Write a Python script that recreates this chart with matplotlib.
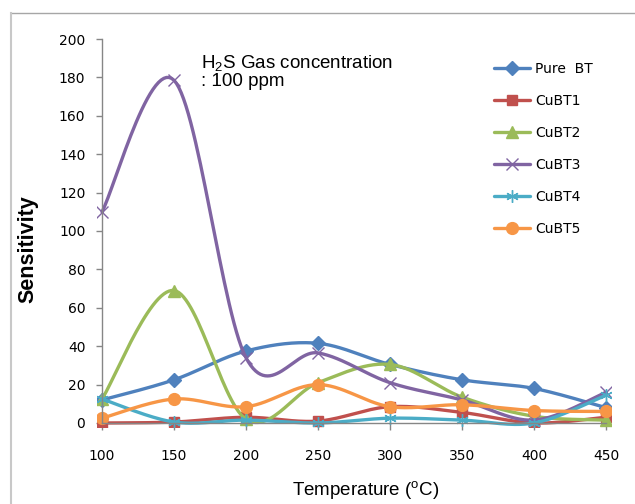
import matplotlib
matplotlib.use('Agg')
import matplotlib.pyplot as plt
import numpy as np
from matplotlib.lines import Line2D
from matplotlib.patches import Rectangle

plt.rcParams['mathtext.fontset'] = 'custom'
plt.rcParams['mathtext.rm'] = 'Liberation Sans'
plt.rcParams['mathtext.it'] = 'Liberation Sans'

temps = [100, 150, 200, 250, 300, 350, 400, 450]
series_names = ['Pure  BT', 'CuBT1', 'CuBT2', 'CuBT3', 'CuBT4', 'CuBT5']
pure_bt = [12, 22.5, 37.5, 41.5, 30.5, 22.5, 18, 8]
cubt1 = [0, 0.5, 3, 1, 8.5, 5.5, 0, 3]
cubt2 = [12.5, 69, 2, 21, 30.5, 13.5, 3.5, 1.5]
cubt3 = [110, 178.5, 34, 36.5, 21, 12, 1.5, 16]
cubt4 = [12.5, 0.5, 1.5, 0, 2.5, 1.5, 0, 14.5]
cubt5 = [2.5, 12.5, 8.5, 20, 8.5, 9.5, 6.5, 6]
y_ticks = [0, 20, 40, 60, 80, 100, 120, 140, 160, 180, 200]

colors = ['#4F81BD', '#C0504D', '#9BBB59', '#8064A2', '#4BACC6', '#F79646']
markers = ['D', 's', '^', 'x', (6, 2, 0), 'o']
msizes = [7, 7.5, 8, 8, 9, 8.5]


def smooth(xs, ys, n=30):
    # Excel-like smoothed line: bezier segments with catmull-rom control points
    p = np.column_stack([xs, ys]).astype(float)
    out = []
    for i in range(len(p) - 1):
        p0 = p[max(i - 1, 0)]
        p1 = p[i]
        p2 = p[i + 1]
        p3 = p[min(i + 2, len(p) - 1)]
        c1 = p1 + (p2 - p0) / 6
        c2 = p2 - (p3 - p1) / 6
        t = np.linspace(0, 1, n, endpoint=False)[:, None]
        seg = ((1 - t) ** 3) * p1 + 3 * ((1 - t) ** 2) * t * c1 + 3 * (1 - t) * t ** 2 * c2 + t ** 3 * p2
        out.append(seg)
    out.append(p[-1:])
    out = np.vstack(out)
    idx = list(range(0, n * (len(p) - 1) + 1, n))
    return out[:, 0], out[:, 1], idx


fig = plt.figure(figsize=(6.35, 5.04), dpi=100)
ax = fig.add_axes([102 / 635, 81 / 504, 504 / 635, 384 / 504])

# outer frame of the chart area
fig.add_artist(Line2D([11 / 635, 1], [1 - 13 / 504, 1 - 13 / 504], transform=fig.transFigure, color='#A6A6A6', lw=1))
fig.add_artist(Line2D([11 / 635, 11 / 635], [0, 1 - 13 / 504], transform=fig.transFigure, color='#C8C8C8', lw=1.5))

all_series = [pure_bt, cubt1, cubt2, cubt3, cubt4, cubt5]
clip = Rectangle((-0.01, -0.01), 1.02, 1.02, transform=ax.transAxes)
for name, vals, c, m, ms in zip(series_names, all_series, colors, markers, msizes):
    sx, sy, idx = smooth(temps, vals)
    line, = ax.plot(sx, sy, color=c, lw=2.4, marker=m, markevery=idx, ms=ms,
                    markerfacecolor=c, markeredgecolor=c, mew=1.0,
                    label=name, solid_capstyle='round')
    line.set_clip_path(clip)

ax.set_xlim(100, 450)
ax.set_ylim(0, 200)
ax.set_xticks(temps)
ax.set_yticks(y_ticks)
for s in ['top', 'right']:
    ax.spines[s].set_visible(False)
for s in ['left', 'bottom']:
    ax.spines[s].set_color('#868686')
    ax.spines[s].set_linewidth(1)
ax.tick_params(axis='y', direction='out', length=4, width=1, color='#868686', pad=8,
               labelsize=10, labelcolor='black')
ax.tick_params(axis='x', direction='out', length=5, width=1, color='#868686', pad=14,
               labelsize=10, labelcolor='black')

ax.set_xlabel('Temperature ($^{\\rm o}$C)', fontsize=13.5, family='Liberation Sans')
ax.xaxis.label.set_va('center')
ax.xaxis.set_label_coords(0.524, -0.1745)
ax.set_ylabel('Sensitivity', fontsize=15.5, family='Liberation Sans', fontweight='bold')
ax.yaxis.label.set_va('center')
ax.yaxis.set_label_coords(-0.147, 0.453)

fig.text(201 / 635, 1 - 53 / 504, 'H$_2$S Gas concentration\n: 100 ppm', fontsize=13.5,
         family='Liberation Sans', va='top', ha='left', linespacing=1.0)

ax.legend(loc='upper left', bbox_to_anchor=(494 / 635, 1 - 62 / 504), bbox_transform=fig.transFigure,
          frameon=False, fontsize=10, handlelength=2.6, handletextpad=0.35, labelspacing=1.3,
          borderpad=0, borderaxespad=0)

fig.savefig('out.png', dpi=100)
